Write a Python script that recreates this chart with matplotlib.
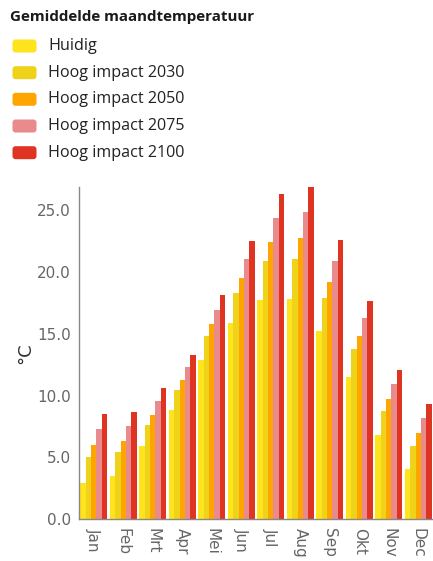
import numpy as np
import matplotlib.pyplot as plt
from matplotlib.patches import FancyBboxPatch

# Average monthly temperature (°C), current climate and high-impact scenarios
months = ['Jan', 'Feb', 'Mrt', 'Apr', 'Mei', 'Jun', 'Jul', 'Aug', 'Sep', 'Okt', 'Nov', 'Dec']
huidig = [2.95, 3.5, 5.95, 8.8, 12.85, 15.9, 17.75, 17.8, 15.2, 11.5, 6.8, 4.05]
impact_2030 = [5.0, 5.4, 7.6, 10.45, 14.8, 18.3, 20.85, 21.05, 17.85, 13.75, 8.75, 5.95]
impact_2050 = [6.0, 6.35, 8.45, 11.25, 15.75, 19.5, 22.4, 22.7, 19.2, 14.85, 9.75, 6.95]
impact_2075 = [7.3, 7.5, 9.55, 12.3, 16.9, 21.0, 24.35, 24.8, 20.9, 16.25, 10.9, 8.15]
impact_2100 = [8.5, 8.7, 10.6, 13.3, 18.1, 22.45, 26.3, 26.85, 22.55, 17.65, 12.1, 9.3]

series = [huidig, impact_2030, impact_2050, impact_2075, impact_2100]
labels = ['Huidig', 'Hoog impact 2030', 'Hoog impact 2050', 'Hoog impact 2075', 'Hoog impact 2100']
colors = ['#ffe31c', '#efd21a', '#ffa500', '#e98b8d', '#e03422']

fig = plt.figure(figsize=(4.33, 5.61), dpi=100)

# bar chart
ax = fig.add_axes([79 / 433, 1 - 519.3 / 561, 1 - 79 / 433, (519.3 - 187) / 561])
x = np.arange(len(months))
width = 0.18
for i, (vals, col) in enumerate(zip(series, colors)):
    ax.bar(x + (i - 2) * width, vals, width=width, color=col, linewidth=0)

ax.set_xlim(-0.5, 11.5)
ax.set_ylim(0, 26.85)
ax.set_yticks([0, 5, 10, 15, 20, 25])
ax.set_yticklabels(['0.0', '5.0', '10.0', '15.0', '20.0', '25.0'])
ax.set_xticks(x)
ax.set_xticklabels(months, rotation=-90, va='top', ha='center')
ax.tick_params(length=0, labelsize=11, labelcolor='#666666', pad=6)
ax.tick_params(axis='x', pad=6)
for side in ['top', 'right']:
    ax.spines[side].set_visible(False)
for side in ['left', 'bottom']:
    ax.spines[side].set_color('#888888')
    ax.spines[side].set_linewidth(1.0)
ax.set_ylabel('°C', fontsize=13, color='#333333', labelpad=2)

# legend drawn in pixel coordinates
lg = fig.add_axes([0, 0, 1, 1], zorder=-1)
lg.set_xlim(0, 433)
lg.set_ylim(561, 0)
lg.axis('off')
lg.text(10, 17, 'Gemiddelde maandtemperatuur', fontsize=10.9, fontweight='bold',
        family='Open Sans', color='#1a1a1a', va='center', ha='left')
row_y = [46, 72.7, 99.3, 126, 152.7]
for yy, lab, col in zip(row_y, labels, colors):
    lg.add_patch(FancyBboxPatch((12.5, yy - 6.5), 24, 13,
                                boxstyle='round,pad=0,rounding_size=3',
                                facecolor=col, edgecolor='none'))
    lg.text(48, yy, lab, fontsize=11.6, family='Open Sans', color='#222222',
            va='center', ha='left')

fig.savefig('out.png', dpi=100)
